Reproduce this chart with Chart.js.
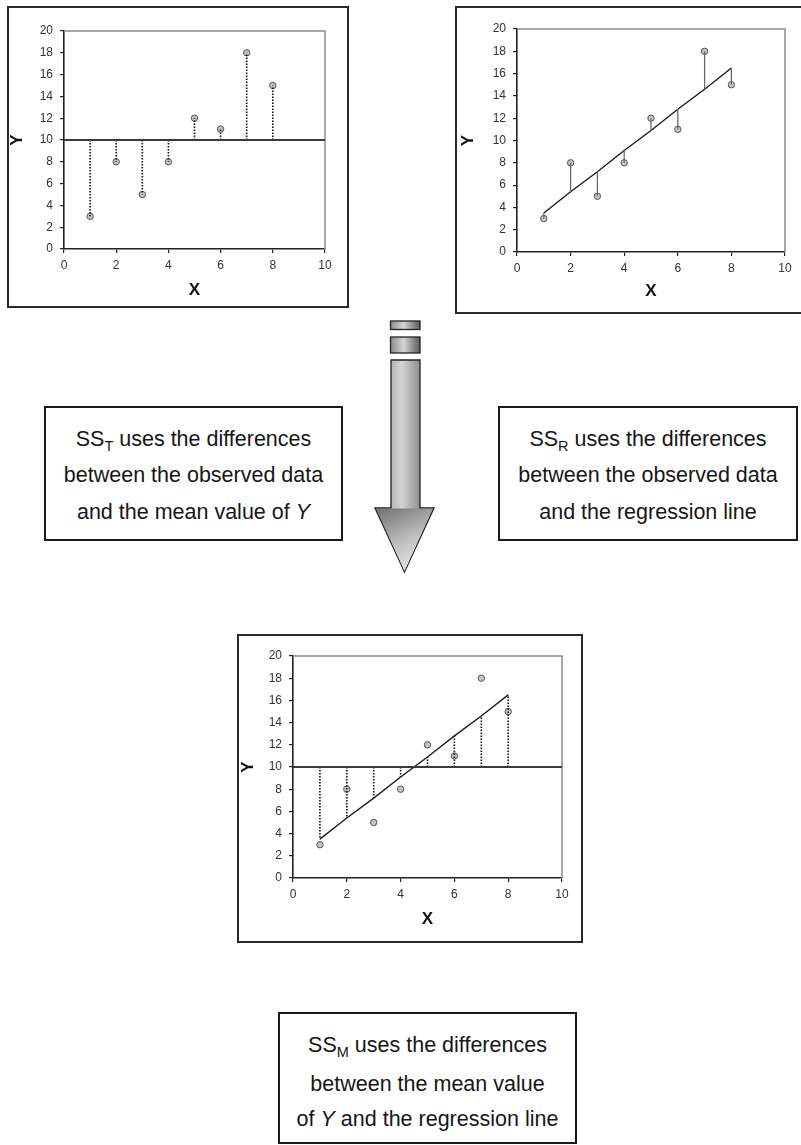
<!DOCTYPE html>
<html>
<head>
<meta charset="utf-8">
<script src="https://cdn.jsdelivr.net/npm/chart.js@4.4.1/dist/chart.umd.min.js"></script>
<style>
  html, body { margin: 0; padding: 0; background: #fff; }
  body { width: 801px; height: 1145px; position: relative; overflow: hidden; font-family: "Liberation Sans", Arial, sans-serif; }
  .frame { position: absolute; box-sizing: border-box; border: 2px solid #2a2a2a; background: #fff; }
  .holder { position: absolute; }
  .note { position: absolute; box-sizing: border-box; border: 2px solid #1a1a1a; background: #fff;
          text-align: center; font-size: 21.5px; color: #161616; }
  .note div { position: absolute; left: 0; right: 0; line-height: 24px; white-space: nowrap; }
  .note sub { font-size: 14.5px; vertical-align: -5px; line-height: 0; color: #161616; }
</style>
</head>
<body>

<div class="frame" style="left:7px;top:6px;width:342px;height:302px;"></div>
<div class="frame" style="left:455px;top:6px;width:350px;height:308px;"></div>
<div class="frame" style="left:237px;top:634px;width:346px;height:309px;"></div>

<div class="holder" style="left:8px;top:8px;width:338px;height:298px;"><canvas id="chartTotal"></canvas></div>
<div class="holder" style="left:457px;top:9px;width:342px;height:302px;"><canvas id="chartResidual"></canvas></div>
<div class="holder" style="left:239px;top:637px;width:341px;height:303px;"><canvas id="chartModel"></canvas></div>

<div class="note" style="left:44px;top:406px;width:299px;height:135px;">
  <div style="top:19px;">SS<sub>T</sub> uses the differences</div>
  <div style="top:55px;">between the observed data</div>
  <div style="top:92px;">and the mean value of <i>Y</i></div>
</div>
<div class="note" style="left:498px;top:406px;width:300px;height:135px;">
  <div style="top:19px;">SS<sub>R</sub> uses the differences</div>
  <div style="top:55px;">between the observed data</div>
  <div style="top:92px;">and the regression line</div>
</div>
<div class="note" style="left:278px;top:1012px;width:299px;height:132px;">
  <div style="top:19px;">SS<sub>M</sub> uses the differences</div>
  <div style="top:58px;">between the mean value</div>
  <div style="top:93px;">of <i>Y</i> and the regression line</div>
</div>

<svg style="position:absolute;left:0;top:0;" width="801" height="1145">
  <defs>
    <linearGradient id="shaft" x1="0" y1="0" x2="1" y2="0">
      <stop offset="0" stop-color="#8a8a8a"/>
      <stop offset="0.45" stop-color="#d4d4d4"/>
      <stop offset="1" stop-color="#5a5a5a"/>
    </linearGradient>
    <linearGradient id="head" x1="0" y1="0" x2="0.4" y2="1">
      <stop offset="0" stop-color="#707070"/>
      <stop offset="0.6" stop-color="#bdbdbd"/>
      <stop offset="1" stop-color="#e0e0e0"/>
    </linearGradient>
  </defs>
  <rect x="390.5" y="321" width="29.5" height="8.5" fill="url(#shaft)" stroke="#222" stroke-width="1.3"/>
  <rect x="390.5" y="337" width="29.5" height="16" fill="url(#shaft)" stroke="#222" stroke-width="1.3"/>
  <path d="M391 360 L420 360 L420 508 L434 508 L404.5 572 L375 508 L391 508 Z" fill="url(#shaft)" stroke="#222" stroke-width="1.3"/>
  <path d="M376 508.6 L433 508.6 L404.5 571 Z" fill="url(#head)" stroke="none"/>
</svg>

<script>
// data
const xValues = [1, 2, 3, 4, 5, 6, 7, 8];
const yObserved = [3, 8, 5, 8, 12, 11, 18, 15];
const yMean = 10;
const yFitted = [3.5, 5.4, 7.2, 9.1, 10.9, 12.8, 14.6, 16.5];
const xRange = [0, 10];
const yRange = [0, 20];
const xStep = 2;
const yStep = 2;

// light gray border on top and right of the plot area (excel style)
const plotBorder = {
  id: "plotBorder",
  beforeDatasetsDraw(chart) {
    const { ctx, chartArea } = chart;
    ctx.save();
    ctx.strokeStyle = "#8c8c8c";
    ctx.lineWidth = 1.5;
    ctx.beginPath();
    ctx.moveTo(chartArea.left, chartArea.top);
    ctx.lineTo(chartArea.right, chartArea.top);
    ctx.lineTo(chartArea.right, chartArea.bottom);
    ctx.stroke();
    ctx.restore();
  }
};

function pointsOf(ys) {
  return xValues.map((x, i) => ({ x: x, y: ys[i] }));
}

// vertical segments between two series, broken with null gaps
function segments(fromYs, toYs) {
  const out = [];
  xValues.forEach((x, i) => {
    out.push({ x: x, y: fromYs[i] });
    out.push({ x: x, y: toYs[i] });
    out.push({ x: x, y: null });
  });
  return out;
}

const meanArr = xValues.map(() => yMean);

function meanLine() {
  return {
    data: [{ x: xRange[0], y: yMean }, { x: xRange[1], y: yMean }],
    borderColor: "#3a3a3a", borderWidth: 2, pointRadius: 0, showLine: true
  };
}
function fitLine() {
  return {
    data: pointsOf(yFitted),
    borderColor: "#1a1a1a", borderWidth: 1.4, pointRadius: 0, showLine: true
  };
}
function observedPoints() {
  return {
    data: pointsOf(yObserved),
    showLine: false, pointRadius: 3.2, pointBorderWidth: 1,
    pointBackgroundColor: "#c4c4c4", pointBorderColor: "#555"
  };
}
function dotted(fromYs, toYs) {
  return {
    data: segments(fromYs, toYs), showLine: true, spanGaps: false,
    borderColor: "#111", borderWidth: 1.6, borderDash: [1.5, 1.5], pointRadius: 0
  };
}
function solid(fromYs, toYs) {
  return {
    data: segments(fromYs, toYs), showLine: true, spanGaps: false,
    borderColor: "#6a6a6a", borderWidth: 1.3, pointRadius: 0
  };
}

function makeChart(id, datasets, g) {
  new Chart(document.getElementById(id), {
    type: "scatter",
    data: { datasets: datasets },
    plugins: [plotBorder],
    options: {
      responsive: true,
      maintainAspectRatio: false,
      animation: false,
      layout: { padding: { top: g.top, right: g.right, left: 0, bottom: 0 } },
      plugins: { legend: { display: false }, tooltip: { enabled: false } },
      scales: {
        x: {
          type: "linear", min: xRange[0], max: xRange[1],
          afterFit: s => { s.height = g.xH; },
          ticks: { stepSize: xStep, padding: 5, color: "#333", font: { family: "Liberation Sans", size: 12 } },
          grid: { drawOnChartArea: false, tickLength: 4, color: "#222", lineWidth: 1.2 },
          border: { color: "#222", width: 1.6 },
          title: { display: true, text: "X", color: "#111", padding: { top: 0, bottom: g.xPad },
                   font: { family: "Liberation Sans", size: 17, weight: "bold" } }
        },
        y: {
          min: yRange[0], max: yRange[1],
          afterFit: s => { s.width = g.yW; },
          ticks: { stepSize: yStep, padding: 7, color: "#333", font: { family: "Liberation Sans", size: 12 } },
          grid: { drawOnChartArea: false, tickLength: 4, color: "#222", lineWidth: 1.2 },
          border: { color: "#222", width: 1.6 },
          title: { display: true, text: "Y", color: "#111", padding: { top: g.yPad, bottom: 0 },
                   font: { family: "Liberation Sans", size: 17, weight: "bold", lineHeight: 1.05 } }
        }
      }
    }
  });
}

makeChart("chartTotal",
  [meanLine(), dotted(meanArr, yObserved), observedPoints()],
  { top: 23, right: 21, yW: 56, xH: 57, xPad: 5, yPad: 0 });

makeChart("chartResidual",
  [solid(yFitted, yObserved), fitLine(), observedPoints()],
  { top: 20, right: 14, yW: 60, xH: 59, xPad: 9, yPad: 2 });

makeChart("chartModel",
  [meanLine(), dotted(meanArr, yFitted), fitLine(), observedPoints()],
  { top: 19, right: 18, yW: 54, xH: 62, xPad: 10, yPad: 0 });
</script>
</body>
</html>
